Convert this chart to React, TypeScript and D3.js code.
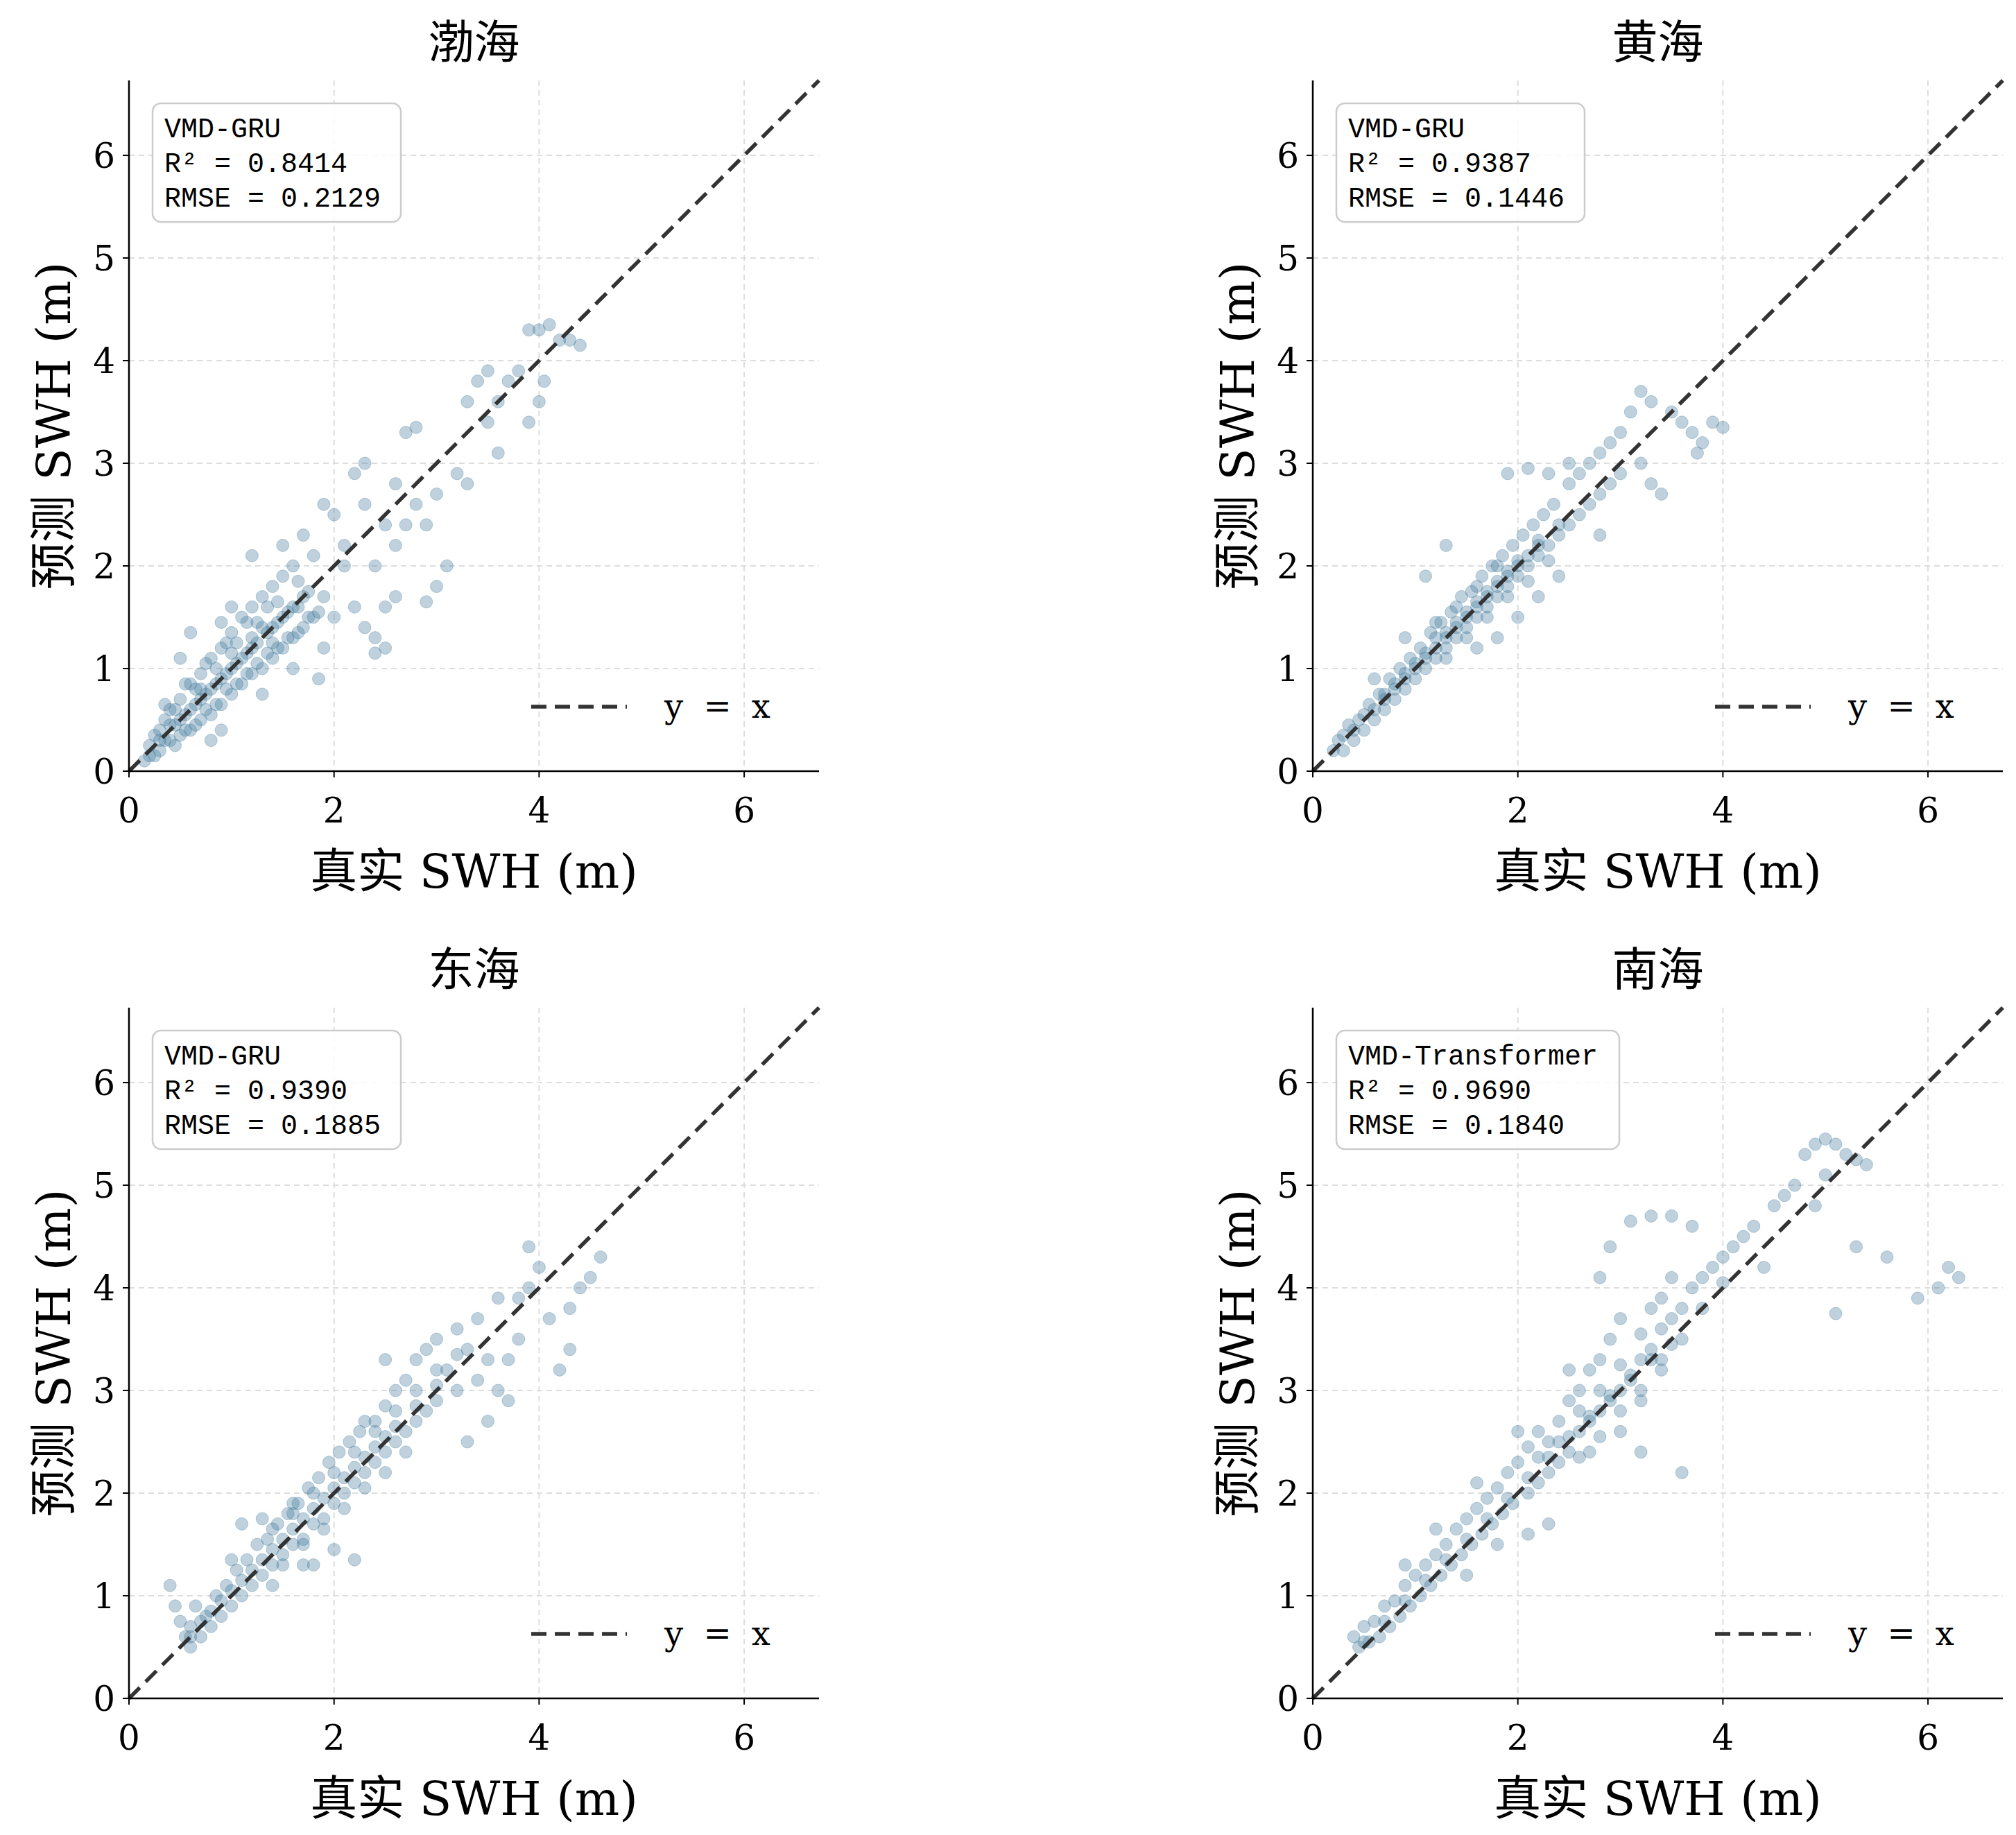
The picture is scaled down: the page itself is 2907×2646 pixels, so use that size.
import * as d3 from 'd3';

// panel info
const titles = ['渤海', '黄海', '东海', '南海'];
const models = ['VMD-GRU', 'VMD-GRU', 'VMD-GRU', 'VMD-Transformer'];
const r2s = ['0.8414', '0.9387', '0.9390', '0.9690'];
const rmses = ['0.2129', '0.1446', '0.1885', '0.1840'];
const ticksX = [0, 2, 4, 6];
const ticksY = [0, 1, 2, 3, 4, 5, 6];

// scatter points [true, predicted]
const bohai: [number, number][] = [
  [0.15,0.1],[0.2,0.25],[0.25,0.15],[0.3,0.4],[0.3,0.2],[0.35,0.5],[0.4,0.3],[0.4,0.6],[0.45,0.45],[0.5,0.35],
  [0.5,0.7],[0.55,0.55],[0.6,0.4],[0.6,0.85],[0.65,0.65],[0.7,0.5],[0.7,0.95],[0.75,0.75],[0.8,0.55],[0.8,1.1],
  [0.85,0.85],[0.9,0.65],[0.9,1.2],[0.95,0.95],[1.0,0.75],[1.0,1.35],[1.05,1.05],[1.1,0.85],[1.1,1.5],[1.15,1.15],
  [1.2,0.95],[1.2,1.6],[1.25,1.25],[1.3,1.0],[1.3,1.7],[1.35,1.35],[1.4,1.1],[1.4,1.8],[1.45,1.45],[1.5,1.2],
  [1.5,1.9],[1.55,1.55],[1.6,1.3],[1.6,2.0],[1.65,1.6],[1.7,1.4],[1.75,1.75],[1.8,1.5],[1.8,2.1],[1.9,1.7],
  [0.6,1.35],[0.5,1.1],[0.9,1.45],[1.2,2.1],[1.0,1.6],[1.3,0.75],[1.6,1.0],[1.9,1.2],[0.8,0.3],[0.9,0.4],
  [0.25,0.35],[0.35,0.3],[0.45,0.6],[0.55,0.4],[0.65,0.8],[0.75,0.6],[0.85,1.0],[0.95,0.8],[1.05,1.25],[1.15,0.95],
  [1.25,1.45],[1.35,1.15],[1.45,1.65],[1.55,1.3],[1.65,1.85],[1.75,1.5],[1.2,1.3],[1.0,1.0],[0.7,0.7],[1.4,1.4],
  [0.2,0.15],[0.3,0.3],[0.4,0.45],[0.5,0.5],[0.6,0.6],[0.7,0.8],[0.8,0.8],[0.9,0.9],[1.0,1.15],[1.1,1.1],
  [1.2,1.2],[1.3,1.4],[1.4,1.25],[1.5,1.5],[1.6,1.6],[1.7,1.7],[0.35,0.65],[0.55,0.85],[0.75,1.05],[0.95,1.25],
  [1.15,1.45],[1.35,1.6],[0.45,0.25],[0.65,0.45],[0.85,0.65],[1.05,0.85],[1.25,1.05],[1.45,1.2],[1.65,1.35],[1.85,1.55],
  [2.0,1.5],[2.1,2.2],[2.2,1.6],[2.3,2.6],[2.4,1.3],[2.5,1.2],[2.2,2.9],[2.3,3.0],[2.5,2.4],[2.6,2.2],
  [2.7,3.3],[2.8,3.35],[2.8,2.6],[2.9,2.4],[3.0,2.7],[3.0,1.8],[3.1,2.0],[3.2,2.9],[2.9,1.65],[3.3,3.6],
  [3.4,3.8],[3.5,3.9],[3.6,3.6],[3.7,3.8],[3.5,3.4],[3.6,3.1],[3.3,2.8],[3.9,3.4],[4.0,3.6],[3.9,4.3],
  [4.0,4.3],[4.1,4.35],[4.2,4.2],[4.3,4.2],[4.4,4.15],[4.05,3.8],[3.8,3.9],[2.6,2.8],[2.0,2.5],[2.1,2.0],
  [1.7,2.3],[1.5,2.2],[2.4,2.0],[2.6,1.7],[2.3,1.4],[2.5,1.6],[1.9,2.6],[2.7,2.4],[2.4,1.15],[1.85,0.9],
];
const huanghai: [number, number][] = [
  [0.2,0.2],[0.25,0.3],[0.3,0.2],[0.35,0.45],[0.4,0.3],[0.45,0.5],[0.5,0.4],[0.55,0.65],[0.6,0.5],[0.65,0.75],
  [0.7,0.6],[0.75,0.9],[0.8,0.7],[0.85,1.0],[0.9,0.8],[0.95,1.1],[1.0,0.9],[1.05,1.2],[1.1,1.0],[1.15,1.35],
  [1.2,1.1],[1.25,1.45],[1.3,1.2],[1.35,1.55],[1.4,1.3],[1.45,1.7],[1.5,1.4],[1.55,1.75],[1.6,1.5],[1.65,1.9],
  [1.7,1.6],[1.75,2.0],[1.8,1.7],[1.85,2.1],[1.9,1.8],[1.95,2.2],[2.0,1.9],[2.05,2.3],[2.1,2.0],[2.15,2.4],
  [2.2,2.1],[2.25,2.5],[2.3,2.2],[2.35,2.6],[2.4,2.3],[2.5,2.8],[2.5,2.4],[2.6,2.9],[2.6,2.5],[2.7,3.0],
  [2.7,2.6],[2.8,3.1],[2.8,2.7],[2.9,3.2],[2.9,2.8],[3.0,3.3],[3.0,2.9],[3.1,3.5],[3.2,3.7],[3.3,3.6],
  [3.2,3.0],[3.3,2.8],[3.4,2.7],[3.5,3.5],[3.6,3.4],[3.7,3.3],[3.8,3.2],[3.9,3.4],[4.0,3.35],[3.75,3.1],
  [0.5,0.55],[0.7,0.75],[0.9,0.95],[1.1,1.15],[1.3,1.35],[1.5,1.55],[1.7,1.75],[1.9,1.95],[1.2,1.3],[1.4,1.45],
  [1.0,1.05],[0.8,0.85],[1.6,1.65],[1.8,1.85],[2.0,2.05],[2.2,2.25],[1.1,1.9],[1.3,2.2],[1.6,1.2],[1.8,1.3],
  [2.0,1.5],[2.2,1.7],[2.4,1.9],[2.3,2.9],[2.5,3.0],[2.8,2.3],[0.9,1.3],[0.6,0.9],[1.9,2.9],[2.1,2.95],
  [0.3,0.35],[0.4,0.4],[0.6,0.6],[0.7,0.7],[0.8,0.8],[0.9,0.9],[1.0,1.0],[1.1,1.1],[1.2,1.2],[1.3,1.3],
  [1.4,1.4],[1.5,1.5],[1.6,1.6],[1.7,1.7],[1.8,1.8],[1.9,1.9],[2.0,2.0],[2.1,2.1],[2.2,2.2],[2.4,2.4],
  [1.2,1.45],[1.4,1.6],[1.6,1.8],[1.8,2.0],[1.3,1.1],[1.5,1.3],[1.7,1.5],[1.9,1.7],[2.1,1.85],[2.3,2.05],
];
const donghai: [number, number][] = [
  [0.4,1.1],[0.45,0.9],[0.5,0.75],[0.55,0.6],[0.6,0.5],[0.6,0.7],[0.65,0.9],[0.7,0.6],[0.75,0.8],[0.8,0.7],
  [0.85,1.0],[0.9,0.8],[0.95,1.1],[1.0,0.9],[1.05,1.25],[1.1,1.0],[1.15,1.35],[1.2,1.1],[1.25,1.5],[1.3,1.2],
  [1.35,1.55],[1.4,1.3],[1.45,1.7],[1.5,1.4],[1.55,1.8],[1.6,1.5],[1.65,1.9],[1.7,1.55],[1.75,2.05],[1.8,1.7],
  [1.85,2.15],[1.9,1.75],[1.95,2.3],[2.0,1.9],[2.05,2.4],[2.1,2.0],[2.15,2.5],[2.2,2.1],[2.25,2.6],[2.3,2.2],
  [2.4,2.7],[2.4,2.3],[2.5,2.85],[2.5,2.4],[2.6,3.0],[2.6,2.5],[2.7,3.1],[2.7,2.6],[2.8,3.3],[2.8,2.7],
  [2.9,3.4],[2.9,2.8],[3.0,3.5],[3.0,2.9],[3.1,3.2],[3.2,3.6],[3.2,3.0],[3.3,3.4],[3.4,3.7],[3.4,3.1],
  [3.5,3.3],[3.6,3.9],[3.6,3.0],[3.7,2.9],[3.8,3.5],[3.8,3.9],[3.9,4.0],[3.9,4.4],[4.0,4.2],[4.1,3.7],
  [4.2,3.2],[4.3,3.4],[4.4,4.0],[4.5,4.1],[4.6,4.3],[4.3,3.8],[3.7,3.3],[3.5,2.7],[3.3,2.5],[1.3,1.75],
  [1.6,1.9],[1.8,1.3],[2.0,1.45],[2.2,1.35],[2.3,2.7],[2.5,3.3],[1.1,1.7],[1.0,1.35],[1.4,1.1],[1.7,1.3],
  [0.7,0.75],[0.9,0.95],[1.1,1.15],[1.3,1.35],[1.5,1.55],[1.7,1.75],[1.9,1.95],[2.1,2.15],[2.3,2.35],[2.5,2.55],
  [0.6,0.6],[0.8,0.85],[1.0,1.05],[1.2,1.25],[1.4,1.45],[1.6,1.65],[1.8,1.85],[2.0,2.05],[2.2,2.25],[2.4,2.45],
  [2.6,2.65],[2.8,2.85],[3.0,3.05],[1.5,1.3],[1.7,1.5],[1.9,1.65],[2.1,1.85],[2.3,2.05],[2.5,2.2],[2.7,2.4],
  [1.4,1.65],[1.6,1.8],[1.8,2.0],[2.0,2.2],[2.2,2.4],[2.4,2.6],[2.6,2.8],[2.8,3.0],[3.0,3.2],[3.2,3.35],
];
const nanhai: [number, number][] = [
  [0.4,0.6],[0.45,0.5],[0.5,0.7],[0.55,0.55],[0.6,0.75],[0.65,0.6],[0.7,0.9],[0.75,0.7],[0.8,0.95],[0.85,0.8],
  [0.9,1.1],[0.95,0.9],[1.0,1.2],[1.05,1.0],[1.1,1.3],[1.15,1.1],[1.2,1.4],[1.25,1.2],[1.3,1.5],[1.35,1.3],
  [1.4,1.65],[1.45,1.4],[1.5,1.75],[1.55,1.5],[1.6,1.85],[1.65,1.6],[1.7,1.95],[1.75,1.7],[1.8,2.05],[1.85,1.8],
  [1.9,2.2],[1.95,1.9],[2.0,2.3],[2.1,2.0],[2.1,2.45],[2.2,2.1],[2.2,2.6],[2.3,2.2],[2.3,2.5],[2.4,2.3],
  [2.4,2.7],[2.5,2.4],[2.5,2.9],[2.6,2.6],[2.6,3.0],[2.7,2.7],[2.7,3.2],[2.8,2.8],[2.8,3.3],[2.9,2.9],
  [2.9,3.5],[3.0,3.0],[3.0,3.7],[3.1,3.1],[3.2,3.3],[3.2,2.9],[3.3,3.4],[3.3,3.8],[3.4,3.6],[3.4,3.9],
  [3.5,3.7],[3.5,4.1],[3.6,3.8],[3.7,4.0],[3.8,4.1],[3.9,4.2],[4.0,4.3],[4.1,4.4],[4.2,4.5],[4.3,4.6],
  [2.9,4.4],[3.1,4.65],[3.3,4.7],[3.5,4.7],[3.7,4.6],[2.8,4.1],[3.6,2.2],[3.2,2.4],[2.1,1.6],[2.3,1.7],
  [4.5,4.8],[4.6,4.9],[4.7,5.0],[4.8,5.3],[4.9,5.4],[5.0,5.45],[5.1,5.4],[5.2,5.3],[5.3,5.25],[5.4,5.2],
  [4.9,4.8],[5.0,5.1],[5.6,4.3],[5.3,4.4],[5.1,3.75],[5.9,3.9],[6.2,4.2],[6.1,4.0],[6.3,4.1],[4.4,4.2],
  [1.2,1.65],[1.5,1.2],[1.8,1.5],[2.0,2.6],[2.5,3.2],[3.0,2.6],[3.4,3.2],[1.6,2.1],[0.9,1.3],[2.7,2.4],
  [0.5,0.55],[0.7,0.75],[0.9,0.95],[1.1,1.15],[1.3,1.35],[1.5,1.55],[1.7,1.75],[1.9,1.95],[2.1,2.15],[2.3,2.35],
  [2.5,2.55],[2.7,2.75],[2.9,2.95],[3.1,3.15],[3.3,3.3],[3.5,3.45],[2.2,2.35],[2.4,2.5],[2.6,2.8],[2.8,3.0],
  [3.0,3.25],[3.2,3.55],[2.6,2.35],[2.8,2.55],[3.0,2.8],[3.2,3.0],[3.4,3.3],[3.6,3.5],[3.8,3.8],[4.0,4.05],
];
const datasets = [bohai, huanghai, donghai, nanhai];

const W = 2907;
const H = 2646;
const lefts = [186, 1893];
const tops = [116, 1453];
const pw = 995;
const ph = 996;
const dmax = 6.73;
const cjk = '"Noto Sans CJK SC", sans-serif';
const serif = '"DejaVu Serif", "Noto Sans CJK SC", serif';
const dark = '#333333';

const Panel = ({ i }: { i: number }) => {
  const x0 = lefts[i % 2];
  const y0 = tops[Math.floor(i / 2)];
  const x = d3.scaleLinear().domain([0, dmax]).range([0, pw]);
  const y = d3.scaleLinear().domain([0, dmax]).range([ph, 0]);
  const pts = datasets[i];
  return (
    <g transform={`translate(${x0},${y0})`}>
      {ticksX.map(t => (
        <line key={'gx' + t} x1={x(t)} x2={x(t)} y1={0} y2={ph} stroke="#dddddd" strokeWidth={2} strokeDasharray="8,6" />
      ))}
      {ticksY.map(t => (
        <line key={'gy' + t} x1={0} x2={pw} y1={y(t)} y2={y(t)} stroke="#dddddd" strokeWidth={2} strokeDasharray="8,6" />
      ))}
      {pts.map((p, k) => (
        <circle key={k} cx={x(p[0])} cy={y(p[1])} r={9} fill="#457b9d" fillOpacity={0.35} stroke="#457b9d" strokeOpacity={0.35} strokeWidth={1} />
      ))}
      <line x1={x(0)} y1={y(0)} x2={x(dmax)} y2={y(dmax)} stroke={dark} strokeWidth={5.5} strokeDasharray="22,12" />
      <line x1={0} x2={0} y1={0} y2={ph} stroke="#000" strokeWidth={2.5} />
      <line x1={0} x2={pw} y1={ph} y2={ph} stroke="#000" strokeWidth={2.5} />
      {ticksX.map(t => (
        <g key={'tx' + t}>
          <line x1={x(t)} x2={x(t)} y1={ph} y2={ph + 9} stroke="#000" strokeWidth={2} />
          <text x={x(t)} y={ph + 74} fontSize={50} fontFamily={serif} textAnchor="middle">{t}</text>
        </g>
      ))}
      {ticksY.map(t => (
        <g key={'ty' + t}>
          <line x1={-9} x2={0} y1={y(t)} y2={y(t)} stroke="#000" strokeWidth={2} />
          <text x={-20} y={y(t) + 18} fontSize={50} fontFamily={serif} textAnchor="end">{t}</text>
        </g>
      ))}
      <text x={pw / 2} y={-32} fontSize={66} fontFamily={cjk} textAnchor="middle">{titles[i]}</text>
      <text x={pw / 2} y={ph + 168} fontSize={68} fontFamily={serif} textAnchor="middle">真实 SWH (m)</text>
      <text transform={`translate(-85,${ph / 2}) rotate(-90)`} fontSize={68} fontFamily={serif} textAnchor="middle">预测 SWH (m)</text>
      <rect x={34} y={33} width={i === 3 ? 408 : 358} height={171} rx={12} fill="#fff" fillOpacity={0.85} stroke="#cccccc" strokeWidth={2.5} />
      {[models[i], `R² = ${r2s[i]}`, `RMSE = ${rmses[i]}`].map((s, k) => (
        <text key={k} x={51} y={82 + k * 50} fontSize={40} fontFamily='"Liberation Mono", monospace'>{s}</text>
      ))}
      <line x1={580} x2={718} y1={ph - 93} y2={ph - 93} stroke={dark} strokeWidth={5.5} strokeDasharray="22,12" />
      <text x={772} y={ph - 77} fontSize={48} fontFamily={serif} style={{ wordSpacing: '14px' }}>y = x</text>
    </g>
  );
};

export default function App() {
  return (
    <svg width={W} height={H} style={{ position: 'absolute', left: 0, top: 0, background: '#fff' }}>
      <rect width={W} height={H} fill="#fff" />
      {[0, 1, 2, 3].map(i => <Panel key={i} i={i} />)}
    </svg>
  );
}
